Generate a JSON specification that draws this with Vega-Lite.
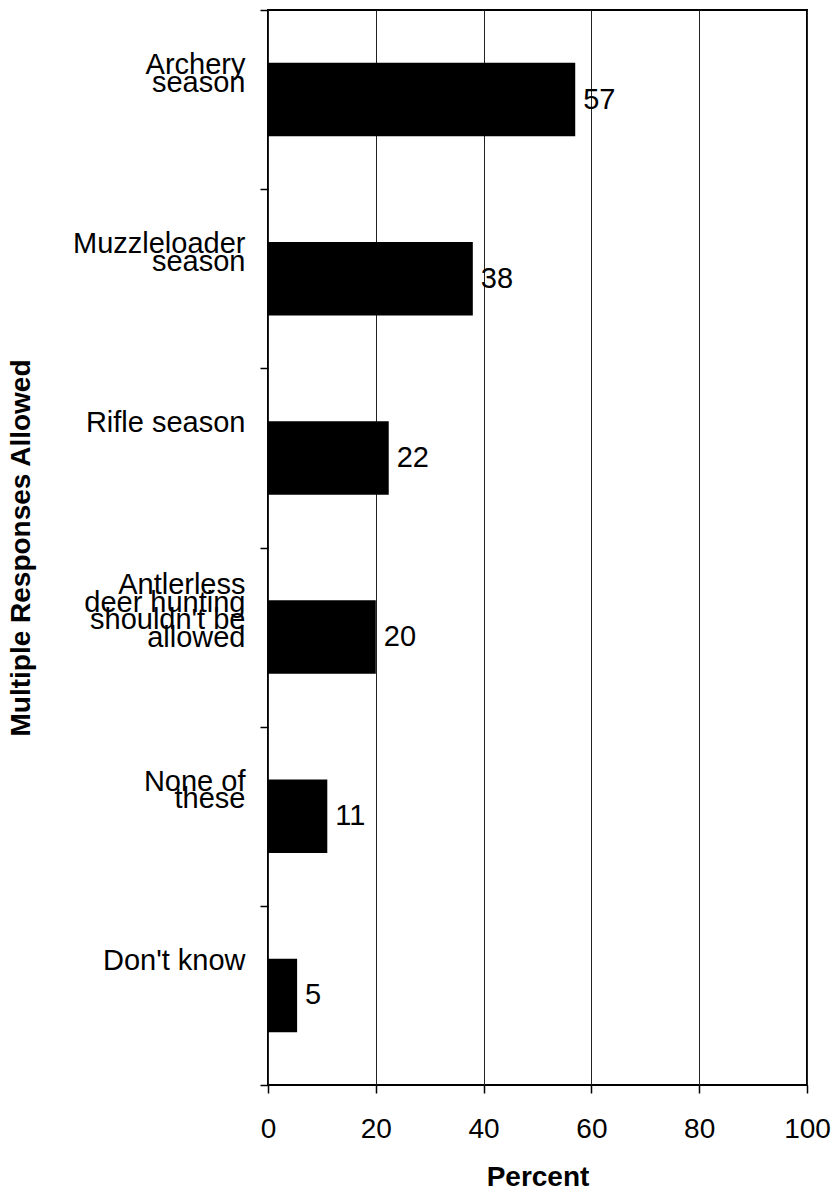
{
  "$schema": "https://vega.github.io/schema/vega-lite/v6.json",
  "width": 539,
  "height": 1075,
  "autosize": {"type": "none"},
  "padding": {"left": 268, "top": 10, "right": 28, "bottom": 111},
  "background": "white",
  "config": {
    "font": "Liberation Sans",
    "view": {"stroke": "black", "strokeWidth": 2}
  },
  "data": {
    "values": [
      {"response": "Archery season", "percent": 57},
      {"response": "Muzzleloader season", "percent": 38},
      {"response": "Rifle season", "percent": 22.4},
      {"response": "Antlerless deer hunting shouldn't be allowed", "percent": 20},
      {"response": "None of these", "percent": 11},
      {"response": "Don't know", "percent": 5.4}
    ]
  },
  "encoding": {
    "y": {
      "field": "response",
      "type": "nominal",
      "sort": null,
      "scale": {"paddingInner": 0, "paddingOuter": 0},
      "axis": {
        "title": "Multiple Responses Allowed",
        "titleFontSize": 28,
        "titleFontWeight": "bold",
        "titleColor": "black",
        "titlePadding": 37,
        "labelFontSize": 29,
        "labelColor": "black",
        "labelAlign": "right",
        "labelBaseline": "middle",
        "labelPadding": 15,
        "labelOffset": -52.5,
        "labelLineHeight": 17.5,
        "labelLimit": 400,
        "labelExpr": "indexof(datum.label, 'Archery') >= 0 ? ['\u00a0', '\u00a0', 'Archery', '\u00a0', 'season'] : indexof(datum.label, 'Muzzle') >= 0 ? ['\u00a0', '\u00a0', 'Muzzleloader', '\u00a0', 'season\u00a0\u00a0\u00a0\u00a0\u00a0'] : indexof(datum.label, 'Antler') >= 0 ? ['Antlerless\u00a0\u00a0', '\u00a0', 'deer hunting', '\u00a0', \"shouldn't be\", '\u00a0', 'allowed\u00a0\u00a0\u00a0\u00a0'] : indexof(datum.label, 'None') >= 0 ? ['\u00a0', '\u00a0', 'None of', '\u00a0', 'these\u00a0\u00a0'] : ['\u00a0', '\u00a0', '\u00a0', datum.label]",
        "tickBand": "extent",
        "tickSize": 8,
        "tickColor": "black",
        "tickWidth": 1.5,
        "domain": false,
        "grid": false
      }
    }
  },
  "layer": [
    {
      "mark": {"type": "bar", "color": "black", "height": {"band": 0.41}},
      "encoding": {
        "x": {
          "field": "percent",
          "type": "quantitative",
          "scale": {"domain": [0, 100], "nice": false},
          "axis": {
            "title": "Percent",
            "titleFontSize": 28,
            "titleFontWeight": "bold",
            "titleColor": "black",
            "titlePadding": 20,
            "values": [0, 20, 40, 60, 80, 100],
            "labelFontSize": 28,
            "labelColor": "black",
            "labelFlush": false,
            "labelPadding": 22,
            "tickSize": 8,
            "tickColor": "black",
            "tickWidth": 1.5,
            "domain": false,
            "grid": true,
            "gridColor": "#222222",
            "gridWidth": 1
          }
        }
      }
    },
    {
      "mark": {"type": "text", "align": "left", "baseline": "middle", "dx": 8, "fontSize": 29, "color": "black"},
      "encoding": {
        "x": {"field": "percent", "type": "quantitative"},
        "text": {"field": "percent", "type": "quantitative", "format": ".0f"}
      }
    }
  ]
}
